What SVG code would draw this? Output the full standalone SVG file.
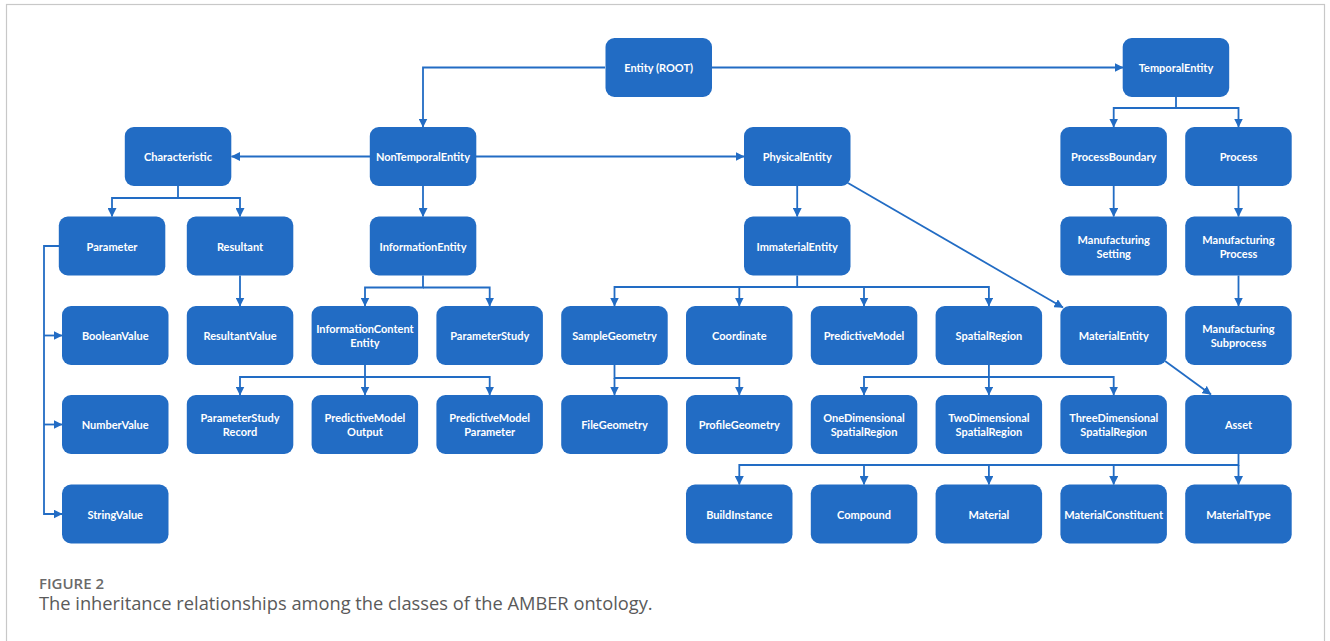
<svg xmlns="http://www.w3.org/2000/svg" width="1330" height="641" viewBox="0 0 1330 641">
<style>
.node rect{fill:#226cc4;}
.node text{fill:#ffffff;font-family:Lato,"Liberation Sans",sans-serif;font-weight:700;font-size:11px;text-anchor:middle;dominant-baseline:central;}
.conn path{stroke:#226cc4;stroke-width:1.8;fill:none;}
.cap1{font-family:"Open Sans","Liberation Sans",sans-serif;font-weight:600;font-size:15px;fill:#6a6a6a;}
.cap2{font-family:"Open Sans","Liberation Sans",sans-serif;font-size:18.3px;fill:#5a5a5a;}
</style>
<defs>
<marker id="arr" markerUnits="userSpaceOnUse" markerWidth="9" markerHeight="9" refX="8.5" refY="4.5" orient="auto">
<path d="M0,0 L9,4.5 L0,9 z" fill="#226cc4"/>
</marker>
</defs>
<rect x="0" y="0" width="1330" height="641" fill="#ffffff"/>
<rect x="6.5" y="4.5" width="1318" height="700" fill="none" stroke="#c8c8c8" stroke-width="1.2"/>

<g id="connectors" class="conn">
<path d="M605,67.5 H423 V127" marker-end="url(#arr)"/>
<path d="M712,67.5 H1123" marker-end="url(#arr)"/>
<path d="M370,156.5 H231.5" marker-end="url(#arr)"/>
<path d="M476,156.5 H744" marker-end="url(#arr)"/>
<path d="M423,186 V216.5" marker-end="url(#arr)"/>
<path d="M178,186 V198 H112 V216.5" marker-end="url(#arr)"/>
<path d="M178,198 H240 V216.5" marker-end="url(#arr)"/>
<path d="M59,246 H44 V514 H62" marker-end="url(#arr)"/>
<path d="M44,335.5 H62" marker-end="url(#arr)"/>
<path d="M44,424.5 H62" marker-end="url(#arr)"/>
<path d="M240,275.5 V306" marker-end="url(#arr)"/>
<path d="M423,275.5 V287.5 H365 V306" marker-end="url(#arr)"/>
<path d="M423,287.5 H489.7 V306" marker-end="url(#arr)"/>
<path d="M365,365 V377 H240 V395" marker-end="url(#arr)"/>
<path d="M365,377 V395" marker-end="url(#arr)"/>
<path d="M365,377 H489.7 V395" marker-end="url(#arr)"/>
<path d="M797.2,186 V216.5" marker-end="url(#arr)"/>
<path d="M848,183 L1063,307.5" marker-end="url(#arr)"/>
<path d="M797.2,275.5 V287 H614.5 V306" marker-end="url(#arr)"/>
<path d="M739.3,287 V306" marker-end="url(#arr)"/>
<path d="M864,287 V306" marker-end="url(#arr)"/>
<path d="M797.2,287 H988.9 V306" marker-end="url(#arr)"/>
<path d="M614.5,365 V378 H739.3 V395" marker-end="url(#arr)"/>
<path d="M614.5,378 V395" marker-end="url(#arr)"/>
<path d="M988.9,365 V377 H864 V395" marker-end="url(#arr)"/>
<path d="M988.9,377 V395" marker-end="url(#arr)"/>
<path d="M988.9,377 H1113.7 V395" marker-end="url(#arr)"/>
<path d="M1165,361 L1211,394.5" marker-end="url(#arr)"/>
<path d="M1238.5,454 V465 H739.3 V484.5" marker-end="url(#arr)"/>
<path d="M864,465 V484.5" marker-end="url(#arr)"/>
<path d="M988.9,465 V484.5" marker-end="url(#arr)"/>
<path d="M1113.7,465 V484.5" marker-end="url(#arr)"/>
<path d="M1238.5,465 V484.5" marker-end="url(#arr)"/>
<path d="M1176,97 V108 H1113.7 V127" marker-end="url(#arr)"/>
<path d="M1176,108 H1238.5 V127" marker-end="url(#arr)"/>
<path d="M1113.7,186 V216.5" marker-end="url(#arr)"/>
<path d="M1238.5,186 V216.5" marker-end="url(#arr)"/>
<path d="M1238.5,275.5 V306" marker-end="url(#arr)"/>
</g>

<g id="n-entity" class="node"><rect x="605.5" y="38" width="106.5" height="59" rx="9"/><text x="658.7" y="67.5">Entity (ROOT)</text></g>
<g id="n-temporalentity" class="node"><rect x="1122.7" y="38" width="106.5" height="59" rx="9"/><text x="1176" y="67.5">TemporalEntity</text></g>

<g id="n-characteristic" class="node"><rect x="124.8" y="127" width="106.5" height="59" rx="9"/><text x="178" y="156.5">Characteristic</text></g>
<g id="n-nontemporalentity" class="node"><rect x="369.8" y="127" width="106.5" height="59" rx="9"/><text x="423" y="156.5">NonTemporalEntity</text></g>
<g id="n-physicalentity" class="node"><rect x="744" y="127" width="106.5" height="59" rx="9"/><text x="797.2" y="156.5">PhysicalEntity</text></g>
<g id="n-processboundary" class="node"><rect x="1060.4" y="127" width="106.5" height="59" rx="9"/><text x="1113.7" y="156.5">ProcessBoundary</text></g>
<g id="n-process" class="node"><rect x="1185.2" y="127" width="106.5" height="59" rx="9"/><text x="1238.5" y="156.5">Process</text></g>

<g id="n-parameter" class="node"><rect x="58.8" y="216.5" width="106.5" height="59" rx="9"/><text x="112" y="246">Parameter</text></g>
<g id="n-resultant" class="node"><rect x="186.8" y="216.5" width="106.5" height="59" rx="9"/><text x="240" y="246">Resultant</text></g>
<g id="n-informationentity" class="node"><rect x="369.8" y="216.5" width="106.5" height="59" rx="9"/><text x="423" y="246">InformationEntity</text></g>
<g id="n-immaterialentity" class="node"><rect x="744" y="216.5" width="106.5" height="59" rx="9"/><text x="797.2" y="246">ImmaterialEntity</text></g>
<g id="n-manufacturingsetting" class="node"><rect x="1060.4" y="216.5" width="106.5" height="59" rx="9"/><text x="1113.7" y="239">Manufacturing</text><text x="1113.7" y="253">Setting</text></g>
<g id="n-manufacturingprocess" class="node"><rect x="1185.2" y="216.5" width="106.5" height="59" rx="9"/><text x="1238.5" y="239">Manufacturing</text><text x="1238.5" y="253">Process</text></g>

<g id="n-booleanvalue" class="node"><rect x="62" y="306" width="106.5" height="59" rx="9"/><text x="115.2" y="335.5">BooleanValue</text></g>
<g id="n-resultantvalue" class="node"><rect x="186.8" y="306" width="106.5" height="59" rx="9"/><text x="240" y="335.5">ResultantValue</text></g>
<g id="n-informationcontententity" class="node"><rect x="311.6" y="306" width="106.5" height="59" rx="9"/><text x="364.9" y="328.5">InformationContent</text><text x="364.9" y="342.5">Entity</text></g>
<g id="n-parameterstudy" class="node"><rect x="436.4" y="306" width="106.5" height="59" rx="9"/><text x="489.7" y="335.5">ParameterStudy</text></g>
<g id="n-samplegeometry" class="node"><rect x="561.2" y="306" width="106.5" height="59" rx="9"/><text x="614.5" y="335.5">SampleGeometry</text></g>
<g id="n-coordinate" class="node"><rect x="686" y="306" width="106.5" height="59" rx="9"/><text x="739.3" y="335.5">Coordinate</text></g>
<g id="n-predictivemodel" class="node"><rect x="810.8" y="306" width="106.5" height="59" rx="9"/><text x="864" y="335.5">PredictiveModel</text></g>
<g id="n-spatialregion" class="node"><rect x="935.6" y="306" width="106.5" height="59" rx="9"/><text x="988.9" y="335.5">SpatialRegion</text></g>
<g id="n-materialentity" class="node"><rect x="1060.4" y="306" width="106.5" height="59" rx="9"/><text x="1113.7" y="335.5">MaterialEntity</text></g>
<g id="n-manufacturingsubprocess" class="node"><rect x="1185.2" y="306" width="106.5" height="59" rx="9"/><text x="1238.5" y="328.5">Manufacturing</text><text x="1238.5" y="342.5">Subprocess</text></g>

<g id="n-numbervalue" class="node"><rect x="62" y="395" width="106.5" height="59" rx="9"/><text x="115.2" y="424.5">NumberValue</text></g>
<g id="n-parameterstudyrecord" class="node"><rect x="186.8" y="395" width="106.5" height="59" rx="9"/><text x="240" y="417.5">ParameterStudy</text><text x="240" y="431.5">Record</text></g>
<g id="n-predictivemodeloutput" class="node"><rect x="311.6" y="395" width="106.5" height="59" rx="9"/><text x="364.9" y="417.5">PredictiveModel</text><text x="364.9" y="431.5">Output</text></g>
<g id="n-predictivemodelparameter" class="node"><rect x="436.4" y="395" width="106.5" height="59" rx="9"/><text x="489.7" y="417.5">PredictiveModel</text><text x="489.7" y="431.5">Parameter</text></g>
<g id="n-filegeometry" class="node"><rect x="561.2" y="395" width="106.5" height="59" rx="9"/><text x="614.5" y="424.5">FileGeometry</text></g>
<g id="n-profilegeometry" class="node"><rect x="686" y="395" width="106.5" height="59" rx="9"/><text x="739.3" y="424.5">ProfileGeometry</text></g>
<g id="n-onedimensional" class="node"><rect x="810.8" y="395" width="106.5" height="59" rx="9"/><text x="864" y="417.5">OneDimensional</text><text x="864" y="431.5">SpatialRegion</text></g>
<g id="n-twodimensional" class="node"><rect x="935.6" y="395" width="106.5" height="59" rx="9"/><text x="988.9" y="417.5">TwoDimensional</text><text x="988.9" y="431.5">SpatialRegion</text></g>
<g id="n-threedimensional" class="node"><rect x="1060.4" y="395" width="106.5" height="59" rx="9"/><text x="1113.7" y="417.5">ThreeDimensional</text><text x="1113.7" y="431.5">SpatialRegion</text></g>
<g id="n-asset" class="node"><rect x="1185.2" y="395" width="106.5" height="59" rx="9"/><text x="1238.5" y="424.5">Asset</text></g>

<g id="n-stringvalue" class="node"><rect x="62" y="484.5" width="106.5" height="59" rx="9"/><text x="115.2" y="514">StringValue</text></g>
<g id="n-buildinstance" class="node"><rect x="686" y="484.5" width="106.5" height="59" rx="9"/><text x="739.3" y="514">BuildInstance</text></g>
<g id="n-compound" class="node"><rect x="810.8" y="484.5" width="106.5" height="59" rx="9"/><text x="864" y="514">Compound</text></g>
<g id="n-material" class="node"><rect x="935.6" y="484.5" width="106.5" height="59" rx="9"/><text x="988.9" y="514">Material</text></g>
<g id="n-materialconstituent" class="node"><rect x="1060.4" y="484.5" width="106.5" height="59" rx="9"/><text x="1113.7" y="514">MaterialConstituent</text></g>
<g id="n-materialtype" class="node"><rect x="1185.2" y="484.5" width="106.5" height="59" rx="9"/><text x="1238.5" y="514">MaterialType</text></g>

<text class="cap1" x="39" y="589">FIGURE 2</text>
<text class="cap2" x="39" y="610">The inheritance relationships among the classes of the AMBER ontology.</text>
</svg>
